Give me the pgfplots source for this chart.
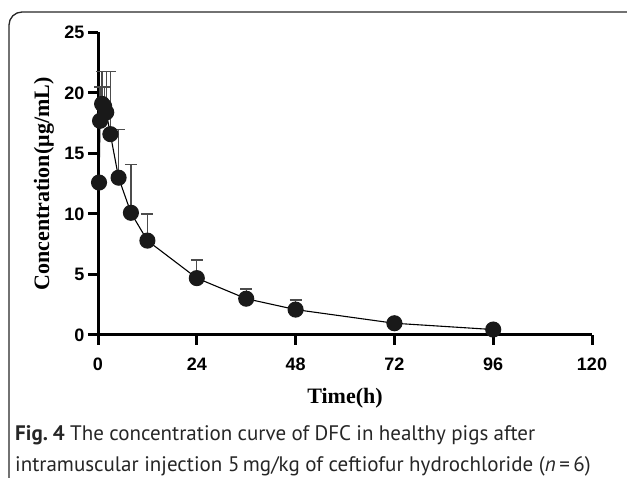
\documentclass[border=0pt]{standalone}
\usepackage{fontspec}
\setmainfont{Liberation Serif}
\newfontfamily\arialfont{Liberation Sans}
\newfontfamily\capfont{PT Sans}
\usepackage{pgfplots}
\pgfplotsset{compat=1.18}
\usepackage{pgfplotstable}

% time (h), mean concentration, upper SD
\pgfplotstableread{
t     c     err
0.25  12.6  0
0.5   17.7  2.8
1     19.1  2.7
1.5   18.9  1.6
2     18.4  3.4
3     16.6  5.2
5     13.0  4.0
8     10.1  4.0
12    7.8   2.2
24    4.7   1.5
36    3.0   0.8
48    2.1   0.8
72    0.97  0
96    0.45  0
}\dfc

\begin{document}
\frenchspacing
\begin{tikzpicture}[x=1pt,y=1pt]
\begin{scope}
\clip (0,0) rectangle (627,478);
\draw[line width=1.3pt, black!85, rounded corners=13pt] (640,466) -- (9,466) -- (9,-20);
\end{scope}
\begin{axis}[
  at={(98pt,143pt)}, anchor=south west,
  scale only axis, width=494pt, height=302.5pt,
  xmin=0, xmax=120, ymin=0, ymax=25,
  enlargelimits=false, clip=false,
  axis lines=left,
  axis line style={-, line width=3pt},
  xtick={0,24,48,72,96,120},
  ytick={0,5,10,15,20,25},
  tick align=outside,
  major tick length=10pt,
  tick style={line width=3pt, black},
  /pgf/number format/assume math mode=true,
  ticklabel style={font=\arialfont\bfseries\fontsize{18}{18}\selectfont},
  xticklabel style={yshift=-9pt},
]
\addplot[only marks, mark=none, forget plot,
  error bars/.cd, y dir=plus, y explicit,
  error bar style={line width=1.3pt, black!70},
  error mark options={rotate=90, mark size=6pt, line width=1.3pt, black!70}]
  table[x=t, y=c, y error=err] {\dfc};
\addplot[black, line width=1.1pt, mark=*, mark size=7.5pt,
  mark options={fill=black!90, draw=black!90}]
  table[x=t, y=c] {\dfc};
\end{axis}
\node[font=\bfseries\fontsize{22}{22}\selectfont] at (345,80) {Time(h)};
\node[font=\bfseries\fontsize{22}{22}\selectfont, rotate=90] at (44,294) {Concentration(μg/mL)};
\node[anchor=base west, inner sep=0pt, font=\capfont\fontsize{21}{21}\selectfont, black!85]
  at (15,37) {\makebox[520pt][s]{\textbf{Fig. 4} The concentration curve of DFC in healthy pigs after}};
\node[anchor=base west, inner sep=0pt, font=\capfont\fontsize{21}{21}\selectfont, black!85]
  at (15,6) {intramuscular injection 5\,mg/kg of ceftiofur hydrochloride (\textit{n}\,=\,6)};
\pgfresetboundingbox
\useasboundingbox (0,0) rectangle (627,478);
\end{tikzpicture}
\end{document}
